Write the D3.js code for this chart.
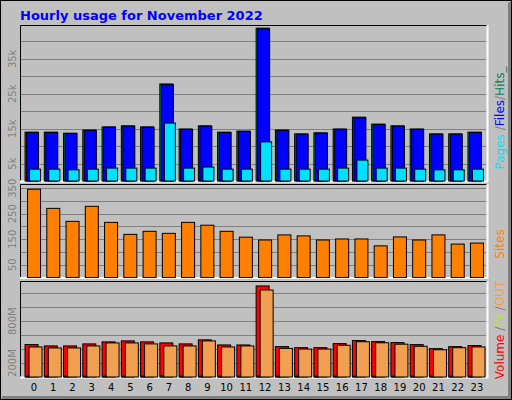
<!DOCTYPE html>
<html><head><meta charset="utf-8">
<script src="https://cdn.jsdelivr.net/npm/d3@7"></script>
<style>body{margin:0;background:#fff}svg{display:block}text{font-family:"DejaVu Sans",sans-serif}</style>
</head><body><div id="chart"></div>
<script>
const hours = d3.range(24).map(String);
const hits  = [14000,14000,13700,14600,15500,15800,15500,27800,14900,15800,14000,14300,43800,14600,13500,13800,14900,18300,16300,15800,14900,13500,13500,14000];
const files = [13900,13900,13600,14500,15400,15700,15400,27600,14800,15700,13900,14200,43600,14500,13400,13700,14800,18100,16200,15700,14800,13400,13400,13900];
const pages = [3400,3400,3200,3400,3700,3700,3700,16600,3700,4000,3400,3400,11200,3400,3400,3400,3700,6000,3700,3700,3400,3200,3200,3400];
const sites = [346,271,220,279,216,169,181,173,216,205,181,158,147,167,163,147,151,151,124,159,147,167,131,135];
const volume = [464,445,445,474,503,517,503,488,474,532,459,459,1304,435,420,420,478,522,507,493,464,406,435,450];
const volOut = [430,416,416,445,488,488,474,445,445,517,430,445,1246,410,400,400,455,505,490,470,440,390,420,430];
const volIn  = [12,12,12,12,12,12,12,18,12,12,12,12,14,12,12,12,12,12,12,12,12,12,12,12];
const topTicks = [5000,15000,25000,35000];
const siteTicks = [50,150,250,350];
const volTicks = [200,800];

const W = 512, H = 400;
const svg = d3.select("#chart").append("svg").attr("width", W).attr("height", H);

// frame
svg.append("rect").attr("width", W).attr("height", H).attr("fill", "#c0c0c0");
svg.append("rect").attr("x", 0.5).attr("y", 0.5).attr("width", W - 1).attr("height", H - 1)
  .attr("fill", "none").attr("stroke", "#000");
svg.append("path").attr("d", `M2,${H-2.5}H${W-2.5}V2`).attr("stroke", "#808080").attr("stroke-width", 3).attr("fill", "none");
svg.append("text").attr("x", 20).attr("y", 20).attr("fill", "#0000ff").attr("font-weight", "bold")
  .attr("font-size", 13).text("Hourly usage for November 2022");

const x = d3.scaleBand().domain(hours).range([24.4, 486.6]);
const bx = h => x(h) + x.bandwidth() / 2;

function panel(y0, y1, scale, grid) {
  svg.append("rect").attr("x", 20).attr("y", y0).attr("width", 467).attr("height", y1 - y0).attr("fill", "#c0c0c0");
  svg.append("g").selectAll("line").data(grid).join("line")
    .attr("x1", 21).attr("x2", 486).attr("y1", d => Math.round(scale(d)) + 0.5).attr("y2", d => Math.round(scale(d)) + 0.5)
    .attr("stroke", "#808080");
  svg.append("path").attr("d", `M20.5,${y1}V${y0 + 0.5}H487`).attr("stroke", "#000").attr("fill", "none");
  svg.append("path").attr("d", `M20,${y1 + 0.5}H487.5V${y0}`).attr("stroke", "#fff").attr("stroke-width", 2).attr("fill", "none");
}
function yLabels(scale, ticks, fmt) {
  svg.append("g").selectAll("text").data(ticks).join("text")
    .attr("transform", d => `translate(16,${scale(d)}) rotate(-90)`)
    .attr("text-anchor", "middle").attr("font-size", 10).attr("fill", "#808080").text(fmt);
}
function bars(data, scale, xOff, w, fill) {
  svg.append("g").selectAll("rect").data(data).join("rect")
    .attr("x", (d, i) => bx(hours[i]) + xOff).attr("width", w)
    .attr("y", d => scale(d)).attr("height", d => scale(0) - scale(d))
    .attr("fill", fill).attr("stroke", "#000").attr("stroke-width", 1);
}

// hits / files / pages
const yTop = d3.scaleLinear().domain([0, 40000]).range([181, 41.4]);
panel(25, 181, yTop, d3.range(5000, 40001, 5000));
yLabels(yTop, topTicks, d => d / 1000 + "k");
bars(hits, yTop, -9, 13, "#00805c");
bars(files, yTop, -7.5, 12, "#0000ff");
bars(pages, yTop, -4.5, 11, "#00e0ff");

// sites
const ySite = d3.scaleLinear().domain([0, 350]).range([277.5, 188.2]);
panel(184, 277.5, ySite, d3.range(50, 351, 50));
yLabels(ySite, siteTicks, d => d);
bars(sites, ySite, -6.5, 13, "#ff8000");

// volume
const yVol = d3.scaleLinear().domain([0, 1200]).range([377, 293.2]);
panel(281, 377, yVol, d3.range(200, 1201, 200));
yLabels(yVol, volTicks, d => d + "M");
bars(volume, yVol, -9, 13, "#ff0000");
bars(volIn, yVol, -8, 3, "#00ff00");
bars(volOut, yVol, -5, 13, "#f0a050");

// hour labels
svg.append("g").selectAll("text").data(hours).join("text")
  .attr("x", d => bx(d)).attr("y", 391).attr("text-anchor", "middle").attr("font-size", 10).attr("fill", "#000").text(d => d);

// right-side legends
function legend(yc, parts) {
  const t = svg.append("text").attr("transform", `translate(504,${yc}) rotate(-90)`)
    .attr("text-anchor", "middle").attr("font-size", 12);
  parts.forEach(([s, c]) => t.append("tspan").attr("fill", c).text(s));
}
legend(118, [["Pages", "#00e0ff"], [" /", "#808080"], ["Files", "#0000ff"], ["/", "#808080"], ["Hits", "#00805c"], ["_", "#00805c"]]);
legend(244, [["Sites", "#ff8000"]]);
legend(330, [["Volume", "#ff0000"], [" /", "#808080"], ["IN", "#c0e040"], [" /", "#808080"], ["OUT", "#f0a050"]]);
</script></body></html>
